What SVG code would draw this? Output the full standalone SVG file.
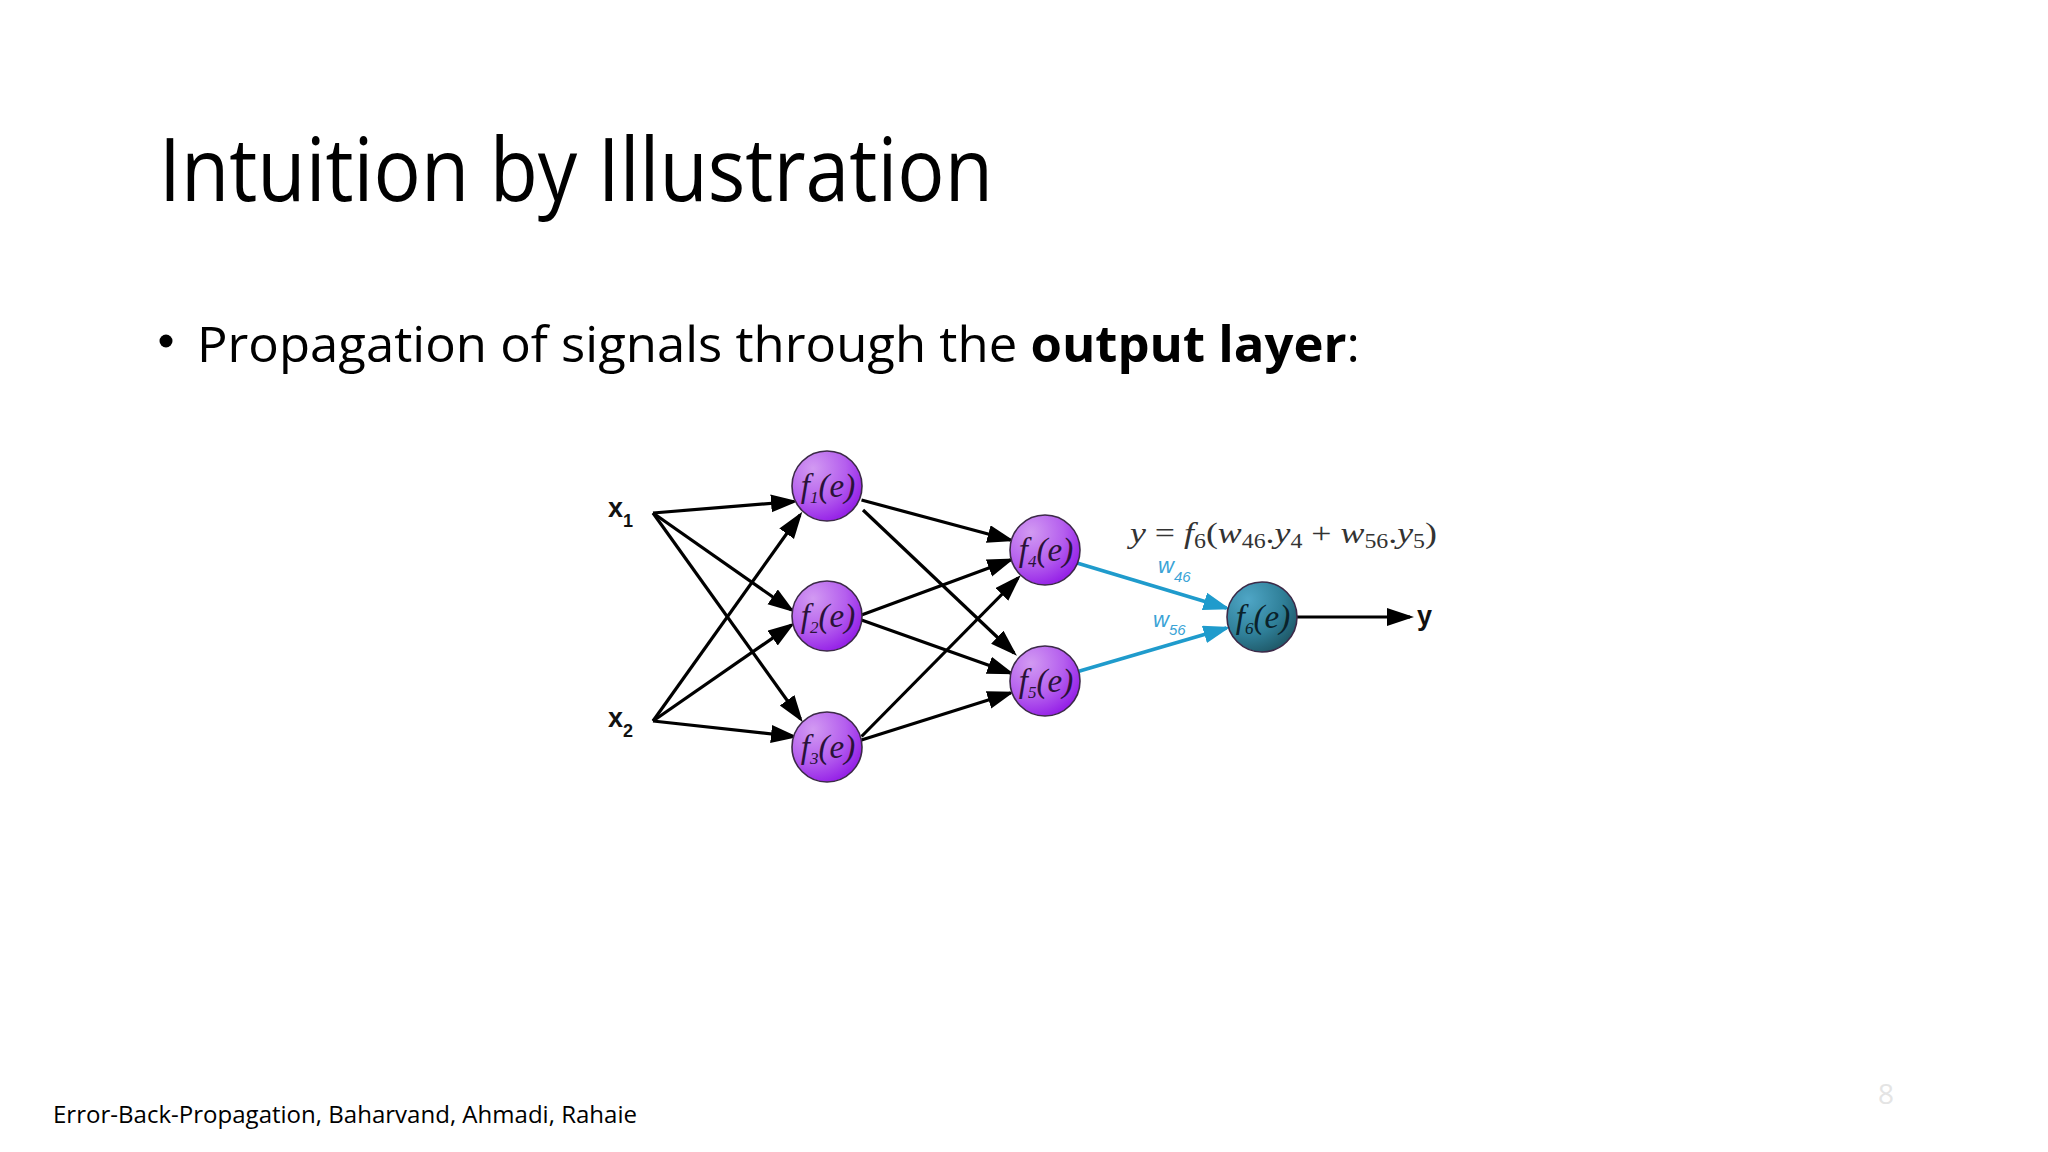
<svg xmlns="http://www.w3.org/2000/svg" width="2048" height="1152" viewBox="0 0 2048 1152">
  <style>
    .title { font-family: "Open Sans", "Liberation Sans", sans-serif; font-size: 88px; fill: #000; }
    .body { font-family: "Open Sans", "Liberation Sans", sans-serif; font-size: 50px; fill: #000; }
    .foot { font-family: "Open Sans", "Liberation Sans", sans-serif; font-size: 23px; fill: #000; }
    .pnum { font-family: "Open Sans", "Liberation Sans", sans-serif; font-size: 28px; fill: #e4e4e4; }
    .blk { stroke: #000; stroke-width: 3.2; fill: none; marker-end: url(#ah); }
    .blu { stroke: #1f9bcc; stroke-width: 3.6; fill: none; marker-end: url(#ahb); }
    .node { stroke: #3c2a48; stroke-width: 1.6; }
    .nlab { font-family: "Liberation Serif", "DejaVu Serif", serif; font-style: italic; font-size: 33px; fill: #2a1238; text-anchor: middle; }
    .nlab6 { font-family: "Liberation Serif", "DejaVu Serif", serif; font-style: italic; font-size: 33px; fill: #0a222b; text-anchor: middle; }
    .xl { font-family: "Liberation Sans", Arial, sans-serif; font-weight: bold; font-size: 27px; fill: #111; }
    .eq { font-family: "Liberation Serif", "DejaVu Serif", serif; font-size: 30px; fill: #333; }
    .wl { font-family: "Liberation Sans", Arial, sans-serif; font-style: italic; font-size: 22px; fill: #3aa3d6; }
  </style>
  <defs>
    <marker id="ah" markerUnits="userSpaceOnUse" markerWidth="28" markerHeight="20" refX="23" refY="9" orient="auto">
      <path d="M0,0 L27,9 L0,18 z" fill="#000"/>
    </marker>
    <marker id="ahb" markerUnits="userSpaceOnUse" markerWidth="28" markerHeight="20" refX="23" refY="9" orient="auto">
      <path d="M0,0 L27,9 L0,18 z" fill="#1f9bcc"/>
    </marker>
    <radialGradient id="gp" cx="0.3" cy="0.25" r="0.85">
      <stop offset="0" stop-color="#d29af2"/>
      <stop offset="0.55" stop-color="#b55fee"/>
      <stop offset="1" stop-color="#9017e6"/>
    </radialGradient>
    <radialGradient id="gt" cx="0.3" cy="0.25" r="0.85">
      <stop offset="0" stop-color="#4fa6c6"/>
      <stop offset="0.6" stop-color="#2f7f98"/>
      <stop offset="1" stop-color="#1d5462"/>
    </radialGradient>
  </defs>

  <rect width="2048" height="1152" fill="#ffffff"/>

  <text class="title" x="159" y="201" textLength="834" lengthAdjust="spacingAndGlyphs">Intuition by Illustration</text>
  <circle cx="166" cy="341" r="6.5" fill="#000"/>
  <text class="body" x="197" y="362" textLength="1163" lengthAdjust="spacingAndGlyphs">Propagation of signals through the <tspan font-weight="bold">output layer</tspan>:</text>

  <g id="connectors">
    <line class="blk" x1="653" y1="513" x2="794" y2="501.5"/>
    <line class="blk" x1="653" y1="513" x2="791.5" y2="610"/>
    <line class="blk" x1="653" y1="513" x2="800.5" y2="719"/>
    <line class="blk" x1="653" y1="721" x2="800" y2="515"/>
    <line class="blk" x1="653" y1="721" x2="791.5" y2="625"/>
    <line class="blk" x1="653" y1="721" x2="794" y2="736.5"/>
    <line class="blk" x1="861.5" y1="500" x2="1010.5" y2="540"/>
    <line class="blk" x1="863" y1="510" x2="1014" y2="653"/>
    <line class="blk" x1="861.5" y1="615" x2="1010.5" y2="560"/>
    <line class="blk" x1="861.5" y1="620" x2="1010.5" y2="673"/>
    <line class="blk" x1="861.5" y1="736.5" x2="1018" y2="578"/>
    <line class="blk" x1="861.5" y1="740" x2="1010.5" y2="693"/>
    <line class="blu" x1="1077" y1="563" x2="1226.5" y2="608"/>
    <line class="blu" x1="1078" y1="671.5" x2="1226.5" y2="628"/>
    <line class="blk" x1="1297" y1="617" x2="1410" y2="617"/>
  </g>

  <g id="x1"><text class="xl" x="608" y="517">x<tspan font-size="18" dy="10">1</tspan></text></g>
  <g id="x2"><text class="xl" x="608" y="727">x<tspan font-size="18" dy="10">2</tspan></text></g>
  <g id="y-out"><text class="xl" x="1417" y="625" font-size="29">y</text></g>

  <g id="f1"><circle class="node" cx="827" cy="486" r="35" fill="url(#gp)"/><text class="nlab" x="828" y="497">f<tspan font-size="17" dy="6">1</tspan><tspan dy="-6">(e)</tspan></text></g>
  <g id="f2"><circle class="node" cx="827" cy="616" r="35" fill="url(#gp)"/><text class="nlab" x="828" y="627">f<tspan font-size="17" dy="6">2</tspan><tspan dy="-6">(e)</tspan></text></g>
  <g id="f3"><circle class="node" cx="827" cy="747" r="35" fill="url(#gp)"/><text class="nlab" x="828" y="758">f<tspan font-size="17" dy="6">3</tspan><tspan dy="-6">(e)</tspan></text></g>
  <g id="f4"><circle class="node" cx="1045" cy="550" r="35" fill="url(#gp)"/><text class="nlab" x="1046" y="561">f<tspan font-size="17" dy="6">4</tspan><tspan dy="-6">(e)</tspan></text></g>
  <g id="f5"><circle class="node" cx="1045" cy="681" r="35" fill="url(#gp)"/><text class="nlab" x="1046" y="692">f<tspan font-size="17" dy="6">5</tspan><tspan dy="-6">(e)</tspan></text></g>
  <g id="f6"><circle class="node" cx="1262" cy="617" r="35" fill="url(#gt)" stroke="#14313a"/><text class="nlab6" x="1263" y="628">f<tspan font-size="17" dy="6">6</tspan><tspan dy="-6">(e)</tspan></text></g>

  <g id="w46"><text class="wl" x="1158" y="573">w<tspan font-size="15" dy="9">46</tspan></text></g>
  <g id="w56"><text class="wl" x="1153" y="627">w<tspan font-size="15" dy="8">56</tspan></text></g>

  <g id="equation">
    <text class="eq" x="1130" y="543" textLength="307" lengthAdjust="spacingAndGlyphs"><tspan font-style="italic">y</tspan> = <tspan font-style="italic">f</tspan><tspan font-size="20" dy="5">6</tspan><tspan dy="-5">(</tspan><tspan font-style="italic">w</tspan><tspan font-size="20" dy="5">46</tspan><tspan dy="-5">.</tspan><tspan font-style="italic">y</tspan><tspan font-size="20" dy="5">4</tspan><tspan dy="-5"> + </tspan><tspan font-style="italic">w</tspan><tspan font-size="20" dy="5">56</tspan><tspan dy="-5">.</tspan><tspan font-style="italic">y</tspan><tspan font-size="20" dy="5">5</tspan><tspan dy="-5">)</tspan></text>
  </g>

  <text class="foot" x="53" y="1123" textLength="584" lengthAdjust="spacingAndGlyphs">Error-Back-Propagation, Baharvand, Ahmadi, Rahaie</text>
  <text class="pnum" x="1878" y="1104">8</text>
</svg>
